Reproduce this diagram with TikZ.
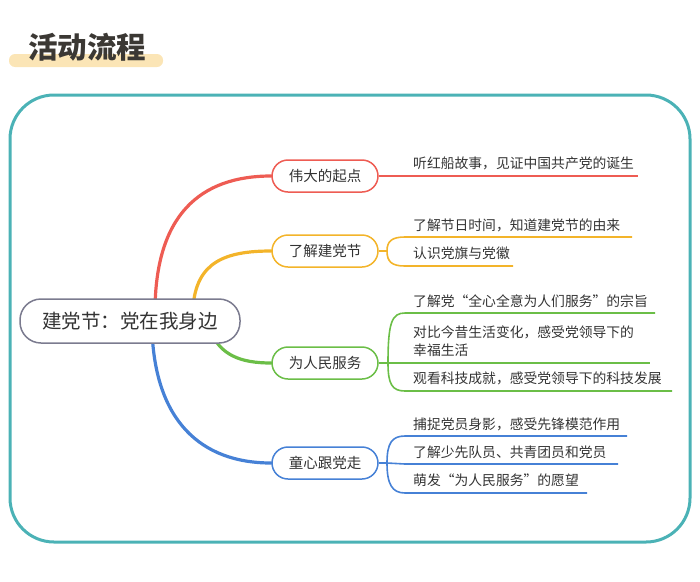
\documentclass[tikz,border=0pt]{standalone}
\usepackage{fontspec}
\setmainfont{Noto Sans CJK SC}
\definecolor{txt}{HTML}{333333}
\definecolor{ttl}{HTML}{3B3834}
\definecolor{teal}{HTML}{4BB2B6}
\definecolor{hl}{HTML}{FBE5B6}
\definecolor{cred}{HTML}{EE5C53}
\definecolor{cyel}{HTML}{F3B42A}
\definecolor{cgrn}{HTML}{6BBE47}
\definecolor{cblu}{HTML}{4681D6}
\definecolor{cgry}{HTML}{7B7B8F}
\tikzset{
  branch/.style={draw=#1, line width=1.5pt, fill=white, rounded corners=16pt,
    minimum width=106pt, minimum height=32pt, inner sep=0pt, text=txt,
    font=\fontsize{14.5}{17}\selectfont},
  curve/.style={draw=#1, line width=3.2pt, line cap=round},
  leafline/.style={draw=#1, line width=1.6pt},
  leaf/.style={anchor=west, inner sep=0pt, text=txt, align=left,
    font=\fontsize{13.8}{18}\selectfont},
}
\begin{document}
\begin{tikzpicture}[x=1pt,y=-1pt]
\useasboundingbox (0,0) rectangle (700,581);
% title
\fill[hl, rounded corners=6pt] (9,54) rectangle (163,67);
\node[text=ttl, font=\fontsize{29.5}{31}\selectfont\bfseries] (title) at (87,47) {活动流程};
% frame
\draw[teal, line width=3pt, rounded corners=44pt] (10,95) rectangle (690,542);
% branch curves
\coordinate (r0) at (155,312);
\coordinate (y0) at (193,308);
\coordinate (g0) at (210,330);
\coordinate (b0) at (152,330);
\node[branch=cred] (n1) at (325,176) {伟大的起点};
\node[branch=cyel] (n2) at (325,251) {了解建党节};
\node[branch=cgrn] (n3) at (325,363) {为人民服务};
\node[branch=cblu] (n4) at (325,463) {童心跟党走};
\draw[curve=cred] (r0) .. controls (155,215) and (200,176) .. (n1.west);
\draw[curve=cyel] (y0) .. controls (196,262) and (225,251) .. (n2.west);
\draw[curve=cgrn] (g0) .. controls (220,355) and (240,363) .. (n3.west);
\draw[curve=cblu] (b0) .. controls (155,420) and (200,463) .. (n4.west);
% central
\node[draw=cgry, line width=1.5pt, fill=white, rounded corners=21pt,
  minimum width=220pt, minimum height=44pt, inner sep=0pt, text=txt,
  font=\fontsize{19.5}{22}\selectfont] (c) at (130,321) {建党节：党在我身边};
% red leaves
\coordinate (r1) at (638,176);
\draw[leafline=cred] (n1.east) -- (r1);
\node[leaf] (t1) at (413,163) {听红船故事，见证中国共产党的诞生};
% yellow leaves
\coordinate (ys) at (387,251);
\coordinate (y1) at (632,237);
\coordinate (y2) at (513,266);
\draw[leafline=cyel] (n2.east) -- (ys);
\draw[leafline=cyel] (ys) .. controls (387,241) and (392,237) .. (405,237) -- (y1);
\draw[leafline=cyel] (ys) .. controls (387,262) and (392,266) .. (405,266) -- (y2);
\node[leaf] (t2) at (413,225) {了解节日时间，知道建党节的由来};
\node[leaf] (t3) at (413,253) {认识党旗与党徽};
% green leaves
\coordinate (gs) at (388,363);
\coordinate (g1) at (655,313);
\coordinate (g2) at (650,363);
\coordinate (g3) at (672,391);
\draw[leafline=cgrn] (n3.east) -- (g2);
\draw[leafline=cgrn] (gs) .. controls (388,322) and (392,313) .. (405,313) -- (g1);
\draw[leafline=cgrn] (gs) .. controls (388,384) and (392,391) .. (405,391) -- (g3);
\node[leaf] (t4) at (413,301) {了解党“全心全意为人们服务”的宗旨};
\node[leaf] (t5) at (413,341) {对比今昔生活变化，感受党领导下的\\幸福生活};
\node[leaf] (t6) at (413,378) {观看科技成就，感受党领导下的科技发展};
% blue leaves
\coordinate (bs) at (387,463);
\coordinate (b1) at (627,436);
\coordinate (b2) at (618,464);
\coordinate (b3) at (587,493);
\draw[leafline=cblu] (n4.east) -- (bs);
\draw[leafline=cblu] (bs) .. controls (387,443) and (392,436) .. (405,436) -- (b1);
\draw[leafline=cblu] (bs) -- (405,464) -- (b2);
\draw[leafline=cblu] (bs) .. controls (387,484) and (392,493) .. (405,493) -- (b3);
\node[leaf] (t7) at (413,424) {捕捉党员身影，感受先锋模范作用};
\node[leaf] (t8) at (413,452) {了解少先队员、共青团员和党员};
\node[leaf] (t9) at (413,480) {萌发“为人民服务”的愿望};
\end{tikzpicture}
\end{document}
